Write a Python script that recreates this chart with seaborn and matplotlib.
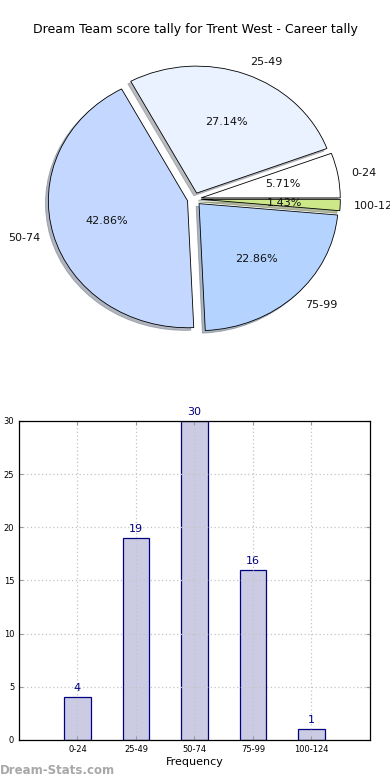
"""
Dream Team score tally for Trent West - pie + bar of score intervals
"""
import numpy as np
import pandas as pd
import matplotlib
matplotlib.use('Agg')
import matplotlib.pyplot as plt
import seaborn as sns

# ── Data ─────────────────────────────────────────────
pie_labels = ['0-24', '25-49', '50-74', '75-99', '100-124']
pie_counts = [4, 19, 30, 16, 1]
pie_colors = ['#ffffff', '#eaf2ff', '#c4d8ff', '#b4d4ff', '#cce888']

bar_labels = ['0-24', '25-49', '50-74', '75-99', '100-124']
bar_counts = [4, 19, 30, 16, 1]
y_ticks = [0, 5, 10, 15, 20, 25, 30]

TITLE = 'Dream Team score tally for Trent West - Career tally'

sns.set_style('white')
plt.rcParams['font.family'] = ['DejaVu Sans']
plt.rcParams['text.color'] = 'black'
plt.rcParams['axes.labelcolor'] = 'black'
plt.rcParams['xtick.color'] = 'black'
plt.rcParams['ytick.color'] = 'black'

fig = plt.figure(figsize=(3.9, 7.8), dpi=100)
fig.patch.set_facecolor('white')

# ── 1. Pie ───────────────────────────────────────────
ax_pie = fig.add_axes([0.052, 0.5413, 0.892, 0.407])
wedges, texts, autotexts = ax_pie.pie(
    pie_counts, labels=pie_labels, colors=pie_colors,
    explode=[0.05] * len(pie_counts),
    shadow={'ox': -0.015, 'oy': -0.015, 'shade': 0.5}, startangle=0,
    autopct='%.2f%%', labeldistance=1.1, pctdistance=0.6,
    wedgeprops={'edgecolor': 'black', 'linewidth': 0.6},
    textprops={'fontsize': 8, 'color': '#111111'})
for t in texts:
    t.set_clip_on(False)
ax_pie.set_aspect('auto')
ax_pie.set_xlim(-1.25, 1.25)
ax_pie.set_ylim(-1.25, 1.25)
ax_pie.axis('off')

fig.text(0.5, 1 - 30 / 780, TITLE, ha='center', va='center', fontsize=9,
         color='black')

# ── 2. Bar chart ─────────────────────────────────────
df = pd.DataFrame({'interval': bar_labels, 'count': bar_counts})
ax_bar = fig.add_axes([0.0487, 0.0513, 0.9, 0.409])
sns.barplot(data=df, x='interval', y='count', ax=ax_bar, width=0.45,
            color='#cbcce3', edgecolor='#000080', linewidth=0.9,
            saturation=1, zorder=1)
ax_bar.set_xlim(-1, 5)
ax_bar.set_ylim(0, 30)
ax_bar.set_yticks(y_ticks)
ax_bar.grid(True, color='#c4c4c4', linestyle=(0, (1, 2)), linewidth=0.9, zorder=3)
ax_bar.set_axisbelow(False)
for patch in ax_bar.patches:
    patch.set_zorder(2)
ax_bar.tick_params(axis='both', labelsize=6, direction='in', length=3,
                   top=True, right=True, bottom=True, left=True, color='#999999')
for s in ax_bar.spines.values():
    s.set_color('black')
    s.set_linewidth(0.9)
    s.set_zorder(5)

for i, v in enumerate(bar_counts):
    ax_bar.text(i, v + 0.4, str(v), ha='center', va='bottom',
                fontsize=8, color='#000080', clip_on=False)

ax_bar.set_xlabel('Frequency', fontsize=8, labelpad=2)
ax_bar.set_ylabel('Score Intervals', fontsize=8)
ax_bar.yaxis.set_label_coords(-0.075, 0.5)

fig.text(0.0, 0.004, 'Dream-Stats.com', fontsize=8.5, color='#a8a8a8',
         fontweight='bold', ha='left', va='bottom')

plt.savefig('out.png', dpi=100, facecolor='white')
plt.close()
